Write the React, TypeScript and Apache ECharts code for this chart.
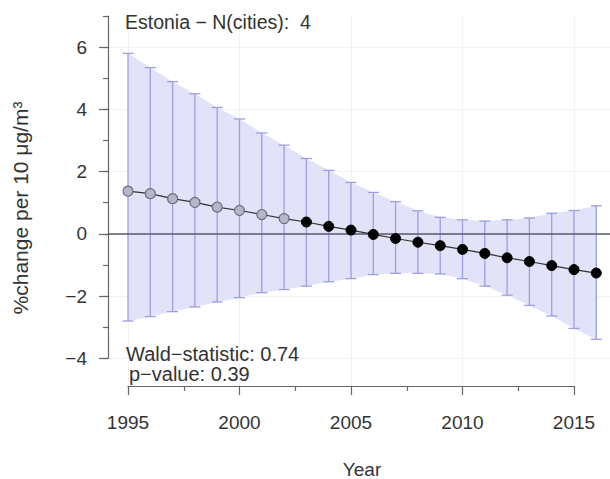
import React, { useEffect, useRef } from "react";
import * as echarts from "echarts";

const years = [1995, 1996, 1997, 1998, 1999, 2000, 2001, 2002, 2003, 2004, 2005, 2006, 2007, 2008, 2009, 2010, 2011, 2012, 2013, 2014, 2015, 2016];
const estimate = [1.37, 1.29, 1.13, 1.01, 0.86, 0.75, 0.62, 0.49, 0.38, 0.24, 0.12, -0.02, -0.15, -0.27, -0.38, -0.5, -0.63, -0.77, -0.89, -1.02, -1.15, -1.26];
const upper = [5.8, 5.34, 4.89, 4.5, 4.06, 3.69, 3.24, 2.85, 2.42, 2.04, 1.65, 1.33, 1.03, 0.74, 0.53, 0.45, 0.41, 0.45, 0.51, 0.66, 0.75, 0.9];
const lower = [-2.8, -2.66, -2.5, -2.35, -2.19, -2.05, -1.89, -1.79, -1.68, -1.54, -1.44, -1.31, -1.27, -1.27, -1.29, -1.44, -1.68, -1.97, -2.3, -2.64, -3.04, -3.39];
const firstBlackIndex = 8;
const xTickMin = 1995;
const xTickMax = 2015;
const yAxisMin = -4;
const yAxisMax = 7;
const yMajorMax = 6;

const titleText = "Estonia \u2212 N(cities):  4";
const waldText = "Wald\u2212statistic: 0.74";
const pText = "p\u2212value: 0.39";
const yTitle = "%change per 10 \u03bcg/m\u00b3";
const xTitle = "Year";

const W = 610;
const H = 479;
const FONT = "'Liberation Sans', Arial, sans-serif";
const TXT = "#333";

// pixel layout
const px1995 = 128;
const px2015 = 574;
const pxPerYear = (px2015 - px1995) / (xTickMax - xTickMin);
const axisLeftPx = 108;
const xAxisPx = 386;
const pxTop7 = 16;
const pxBottom4 = 358.3;
const pxPerUnit = (pxBottom4 - pxTop7) / (yAxisMax - yAxisMin);

const minus = (v: number) => (v < 0 ? "\u2212" + Math.abs(v) : String(v));

export default function App() {
  const ref = useRef<HTMLDivElement>(null);
  useEffect(() => {
    if (!ref.current) return;
    const chart = echarts.init(ref.current, null, { renderer: "svg" });

    const dataXMin = xTickMin - (px1995 - axisLeftPx) / pxPerYear;
    const dataXMax = xTickMin + (W - px1995) / pxPerYear;
    const dataYMin = yAxisMin - (xAxisPx - pxBottom4) / pxPerUnit;

    const axisText = { fontFamily: FONT, fontSize: 19, color: TXT };

    const option: any = {
      animation: false,
      backgroundColor: "#fff",
      grid: [
        { left: axisLeftPx, right: 0, top: pxTop7, bottom: H - xAxisPx },
        { left: px1995, right: W - px2015, top: pxTop7, bottom: H - xAxisPx },
        { left: axisLeftPx, right: 0, top: pxTop7, bottom: H - pxBottom4 },
        { left: axisLeftPx, right: 0, top: pxTop7 + (yAxisMax - yMajorMax) * pxPerUnit, bottom: H - pxBottom4 },
      ],
      xAxis: [
        { gridIndex: 0, type: "value", min: dataXMin, max: dataXMax, show: false },
        {
          gridIndex: 1, type: "value", min: xTickMin, max: xTickMax, interval: 5,
          axisLine: { show: true, onZero: false, lineStyle: { color: "#666", width: 1.2 } },
          axisTick: { show: true, length: 9, lineStyle: { color: "#666", width: 1.2 } },
          minorTick: { show: true, splitNumber: 2, length: 5, lineStyle: { color: "#666", width: 1.2 } },
          axisLabel: { ...axisText, margin: 27, showMinLabel: true, showMaxLabel: true, formatter: (v: number) => String(v) },
          splitLine: { show: true, lineStyle: { color: "#f2f2f4", width: 1 } },
        },
        { gridIndex: 2, type: "value", min: 0, max: 1, show: false },
        { gridIndex: 3, type: "value", min: 0, max: 1, show: false },
      ],
      yAxis: [
        { gridIndex: 0, type: "value", min: dataYMin, max: yAxisMax, show: false },
        { gridIndex: 1, type: "value", min: 0, max: 1, show: false },
        {
          gridIndex: 2, type: "value", min: yAxisMin, max: yAxisMax, interval: 1,
          axisLine: { show: true, onZero: false, lineStyle: { color: "#666", width: 1.2 } },
          axisTick: { show: true, length: 5, lineStyle: { color: "#666", width: 1.2 } },
          axisLabel: {
            ...axisText, margin: 21,
            formatter: (v: number) => (v % 2 === 0 && v <= yMajorMax ? minus(v) : ""),
          },
          splitLine: { show: false },
        },
        {
          gridIndex: 3, type: "value", min: yAxisMin, max: yMajorMax, interval: 2,
          axisLine: { show: false },
          axisTick: { show: true, length: 9, lineStyle: { color: "#666", width: 1.2 } },
          axisLabel: { show: false },
          splitLine: { show: true, lineStyle: { color: "#f2f2f4", width: 1 } },
        },
      ],
      series: [
        {
          type: "custom",
          xAxisIndex: 0, yAxisIndex: 0,
          data: [[years[0], 0]],
          silent: true,
          z: 1,
          renderItem: (_p: any, api: any) => {
            const top = years.map((y, i) => api.coord([y, upper[i]]));
            const bot = years.map((y, i) => api.coord([y, lower[i]])).reverse();
            return { type: "polygon", shape: { points: top.concat(bot) }, style: { fill: "#e2e2f8" } };
          },
        },
        {
          type: "custom",
          xAxisIndex: 0, yAxisIndex: 0,
          data: years.map((y, i) => [y, lower[i], upper[i]]),
          silent: true,
          z: 2,
          renderItem: (_p: any, api: any) => {
            const lo = api.coord([api.value(0), api.value(1)]);
            const hi = api.coord([api.value(0), api.value(2)]);
            const cw = 5.5;
            const st = { stroke: "#9e9ee2", lineWidth: 1.3 };
            return {
              type: "group",
              children: [
                { type: "line", shape: { x1: lo[0], y1: lo[1], x2: hi[0], y2: hi[1] }, style: st },
                { type: "line", shape: { x1: lo[0] - cw, y1: lo[1], x2: lo[0] + cw, y2: lo[1] }, style: st },
                { type: "line", shape: { x1: hi[0] - cw, y1: hi[1], x2: hi[0] + cw, y2: hi[1] }, style: st },
              ],
            };
          },
          markLine: {
            silent: true,
            symbol: "none",
            label: { show: false },
            lineStyle: { color: "#58586c", width: 1.6, type: "solid" },
            data: [{ yAxis: 0 }],
          },
        },
        {
          type: "line",
          xAxisIndex: 0, yAxisIndex: 0,
          z: 5,
          symbol: "circle",
          symbolSize: 10,
          lineStyle: { color: "#333", width: 1.2 },
          data: years.map((y, i) => ({
            value: [y, estimate[i]],
            itemStyle: i < firstBlackIndex
              ? { color: "#b6b6cb", borderColor: "#6c6c80", borderWidth: 1.2 }
              : { color: "#000", borderColor: "#000", borderWidth: 1 },
          })),
        },
      ],
      graphic: [
        { type: "text", left: 125, top: 12, z: 100, style: { text: titleText, font: `19.5px ${FONT}`, fill: TXT } },
        { type: "text", left: 126, top: 344, z: 100, style: { text: waldText, font: `20px ${FONT}`, fill: TXT } },
        { type: "text", left: 129, top: 364, z: 100, style: { text: pText, font: `20px ${FONT}`, fill: TXT } },
        {
          type: "text", x: 20, y: 208, rotation: Math.PI / 2,
          style: { text: yTitle, font: `21px ${FONT}`, fill: TXT, align: "center", verticalAlign: "middle" },
        },
        {
          type: "text", x: 362, y: 469,
          style: { text: xTitle, font: `19px ${FONT}`, fill: TXT, align: "center", verticalAlign: "middle" },
        },
      ],
    };
    chart.setOption(option);
    return () => chart.dispose();
  }, []);
  return <div ref={ref} style={{ position: "fixed", left: 0, top: 0, width: W, height: H }} />;
}
